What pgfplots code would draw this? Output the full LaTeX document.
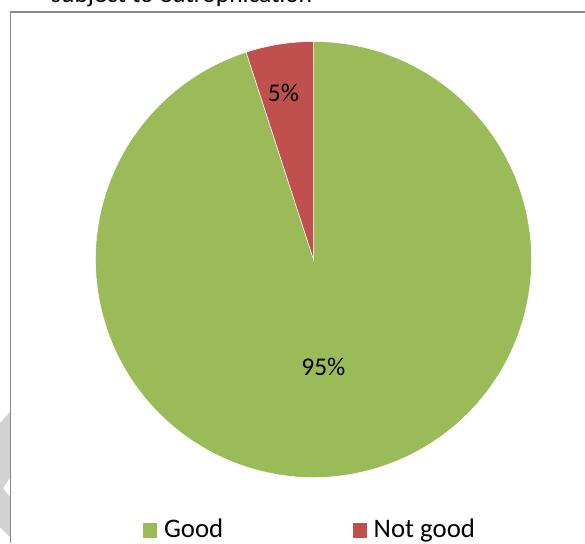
\documentclass[border=0pt]{standalone}
\usepackage{fontspec}
\setmainfont{Carlito}
\usepackage{pgfplots}
\usepackage{pgfplotstable}
\pgfplotsset{compat=1.18}
\definecolor{goodc}{HTML}{9BBB59}
\definecolor{badc}{HTML}{C0504D}
\definecolor{framec}{HTML}{8A8A8A}
\definecolor{shadec}{HTML}{D2D2D2}
\pgfplotstableread{
label value
Good 95
NotGood 5
}\piedata
\begin{document}
\begin{tikzpicture}
\pgfplotstablegetelem{0}{value}\of\piedata \let\vGood\pgfplotsretval
\pgfplotstablegetelem{1}{value}\of\piedata \let\vBad\pgfplotsretval
\pgfmathsetmacro\aBad{360*\vBad/(\vGood+\vBad)}
\pgfmathsetmacro\aEnd{90+\aBad}
\useasboundingbox (0,0) rectangle (585pt,543pt);
\clip (0,0) rectangle (585pt,543pt);
\begin{axis}[
  width=585pt, height=543pt, scale only axis,
  xmin=0, xmax=585, ymin=0, ymax=543,
  hide axis, clip=false,
  font=\fontsize{25.5}{30}\selectfont,
]
% background shade artefact
\fill[shadec] (axis cs:0,120) -- (axis cs:10,131) -- (axis cs:10,65) -- (axis cs:3,55) -- (axis cs:10,46) -- (axis cs:10,6) -- (axis cs:0,16) -- cycle;
% frame
\draw[framec, line width=1.3pt] (axis cs:10.8,0) -- (axis cs:10.8,531) -- (axis cs:586,531);
% title (cut off)
\node[anchor=base west, inner sep=0pt] at (axis cs:51,540.5) {subject to eutrophication};
% pie slices
\fill[goodc, draw=white, line width=0.5pt] (axis cs:313.5,283.5) -- ++(\aEnd:218pt) arc[start angle=\aEnd, end angle=450, radius=218pt] -- cycle;
\fill[badc, draw=white, line width=0.5pt] (axis cs:313.5,283.5) -- ++(90:218pt) arc[start angle=90, end angle=\aEnd, radius=218pt] -- cycle;
% labels
\node[anchor=base, inner sep=0pt] at (axis cs:283.5,441.3) {5\%};
\node[anchor=base, inner sep=0pt] at (axis cs:323.4,167.3) {95\%};
% legend
\fill[goodc] (axis cs:142.7,5.3) rectangle (axis cs:156.7,19.7);
\node[anchor=base west, inner sep=0pt, font=\fontsize{26.8}{30}\selectfont] at (axis cs:163.8,5.7) {Good};
\fill[badc] (axis cs:352.7,5.3) rectangle (axis cs:366.7,19.7);
\node[anchor=base west, inner sep=0pt, font=\fontsize{26.8}{30}\selectfont] at (axis cs:373.5,5.7) {Not good};
\end{axis}
\end{tikzpicture}
\end{document}
